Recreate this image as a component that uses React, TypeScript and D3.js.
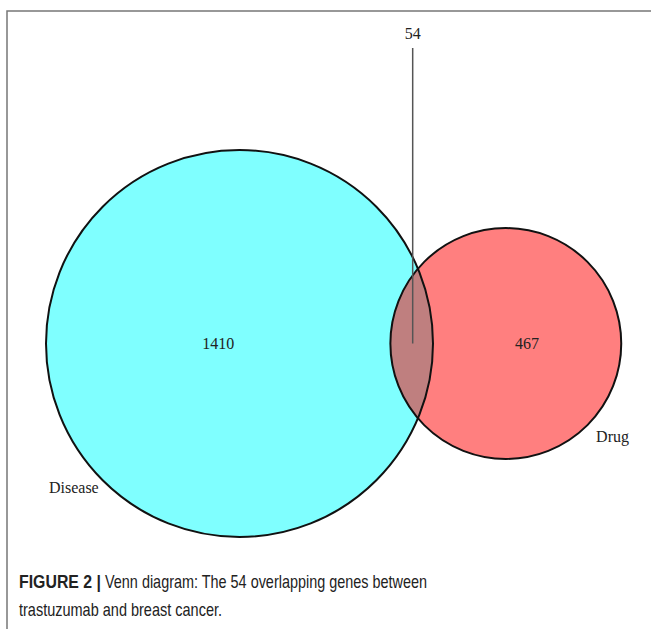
import React from 'react';
import * as d3 from 'd3';

// set names, exclusive counts and the shared count
const setNames = ['Disease', 'Drug'];
const onlyCounts = [1410, 467];
const sharedCount = 54;
const setColors = ['cyan', 'red'];
const labelAngles = [139, 41]; // degrees, screen coords (y down)
const captionBold = 'FIGURE 2 |';
const captionLines = ['Venn diagram: The 54 overlapping genes between', 'trastuzumab and breast cancer.'];

const W = 651;
const H = 629;

// area of the lens between two circles
const lensArea = (r1: number, r2: number, d: number) => {
    if (d >= r1 + r2) return 0;
    if (d <= Math.abs(r1 - r2)) return Math.PI * Math.min(r1, r2) ** 2;
    const a1 = Math.acos((d * d + r1 * r1 - r2 * r2) / (2 * d * r1));
    const a2 = Math.acos((d * d + r2 * r2 - r1 * r1) / (2 * d * r2));
    const k = Math.sqrt((-d + r1 + r2) * (d + r1 - r2) * (d - r1 + r2) * (d + r1 + r2));
    return r1 * r1 * a1 + r2 * r2 * a2 - 0.5 * k;
};

const App: React.FC = () => {
    const totals = onlyCounts.map(c => c + sharedCount);
    const rScale = d3.scaleSqrt().domain([0, totals[0]]).range([0, 193.5]);
    const r1 = rScale(totals[0]);
    const r2 = rScale(totals[1]);
    const perGene = (Math.PI * r1 * r1) / totals[0];
    const target = sharedCount * perGene;

    // bisection for the centre distance
    let lo = Math.abs(r1 - r2), hi = r1 + r2;
    for (let i = 0; i < 60; i++) {
        const mid = (lo + hi) / 2;
        if (lensArea(r1, r2, mid) > target) lo = mid; else hi = mid;
    }
    const dist = (lo + hi) / 2;

    const cy = 343.5;
    const cx1 = 239.5;
    const cx2 = cx1 + dist;
    const centers = [cx1, cx2];
    const radii = [r1, r2];

    // label positions
    const lensLeft = cx2 - r2;
    const lensRight = cx1 + r1;
    const onlyX = [(cx1 - r1 + lensLeft) / 2, (lensRight + cx2 + r2) / 2];
    const sharedX = (lensLeft + lensRight) / 2;

    const serif = '"Liberation Serif", "DejaVu Serif", serif';
    const narrow = '"Liberation Sans Narrow", "Arial Narrow", "Liberation Sans", sans-serif';

    return (
        <svg width={W} height={H} style={{position: 'absolute', left: 0, top: 0, background: '#fff'}}>
            <rect x={7} y={11} width={W} height={H} fill="#fff" stroke="#777" strokeWidth={1.5}/>
            {centers.map((cx, i) => (
                <circle key={'f' + i} cx={cx} cy={cy} r={radii[i]} fill={setColors[i]} fillOpacity={0.5}/>
            ))}
            {centers.map((cx, i) => (
                <circle key={'s' + i} cx={cx} cy={cy} r={radii[i]} fill="none" stroke="#111" strokeWidth={2}/>
            ))}
            {onlyCounts.map((c, i) => (
                <text key={'c' + i} x={onlyX[i]} y={cy} dy="0.35em" textAnchor="middle"
                      fontFamily={serif} fontSize={16} fill="#222">{c}</text>
            ))}
            <line x1={sharedX + 1} x2={sharedX + 1} y1={48} y2={cy} stroke="#555" strokeWidth={1.5}/>
            <text x={sharedX + 1} y={33} dy="0.35em" textAnchor="middle" fontFamily={serif} fontSize={16}
                  fill="#222">{sharedCount}</text>
            {setNames.map((n, i) => {
                const a = labelAngles[i] * Math.PI / 180;
                const rr = radii[i] + 26;
                return (
                    <text key={'n' + i} x={centers[i] + rr * Math.cos(a)} y={cy + rr * Math.sin(a)} dy="0.35em"
                          textAnchor="middle" fontFamily={serif} fontSize={16} fill="#222">{n}</text>
                );
            })}
            <text x={19} y={588} fontFamily={narrow} fontSize={18} fontWeight="bold" fill="#222" textLength={82}
                  lengthAdjust="spacingAndGlyphs">{captionBold}</text>
            <text x={105} y={588} fontFamily={narrow} fontSize={19} fill="#222" textLength={322}
                  lengthAdjust="spacingAndGlyphs">{captionLines[0]}</text>
            <text x={19} y={616} fontFamily={narrow} fontSize={19} fill="#222" textLength={203}
                  lengthAdjust="spacingAndGlyphs">{captionLines[1]}</text>
        </svg>
    );
};

export default App;
